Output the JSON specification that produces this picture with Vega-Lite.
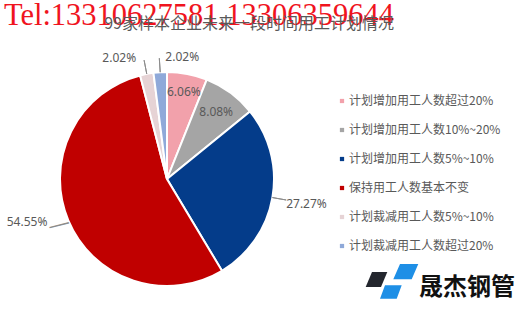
{
  "$schema": "https://vega.github.io/schema/vega-lite/v6.json",
  "background": "white",
  "padding": 0,
  "datasets": {
    "plans": [
      {"plan": "计划增加用工人数超过20%", "share": 0.0606},
      {"plan": "计划增加用工人数10%~20%", "share": 0.0808},
      {"plan": "计划增加用工人数5%~10%", "share": 0.2727},
      {"plan": "保持用工人数基本不变", "share": 0.5455},
      {"plan": "计划裁减用工人数5%~10%", "share": 0.0202},
      {"plan": "计划裁减用工人数超过20%", "share": 0.0202}
    ]
  },
  "title": {
    "text": "Tel:13310627581,13306359644",
    "subtitle": "99家样本企业未来一段时间用工计划情况",
    "anchor": "end",
    "frame": "bounds",
    "dx": -124,
    "baseline": "line-top",
    "lineHeight": 37,
    "offset": 14,
    "font": "Liberation Serif",
    "fontSize": 30.5,
    "fontWeight": "normal",
    "color": "#F0141E",
    "subtitleFont": "Noto Sans CJK SC",
    "subtitleFontSize": 16,
    "subtitleColor": "#595959",
    "subtitlePadding": -13
  },
  "config": {
    "view": {"stroke": null},
    "font": "Noto Sans CJK SC"
  },
  "spacing": 4,
  "hconcat": [
    {
      "width": 334,
      "height": 272,
      "data": {"name": "plans"},
      "transform": [{"window": [{"op": "row_number", "as": "rank"}]}],
      "encoding": {
        "theta": {"field": "share", "type": "quantitative", "stack": true},
        "order": {"field": "rank", "type": "quantitative"},
        "detail": {"field": "plan", "type": "nominal"}
      },
      "layer": [
        {
          "mark": {"type": "arc", "outerRadius": 107, "stroke": "white", "strokeWidth": 2},
          "encoding": {
            "color": {
              "field": "plan",
              "type": "nominal",
              "scale": {
                "domain": ["计划增加用工人数超过20%", "计划增加用工人数10%~20%", "计划增加用工人数5%~10%", "保持用工人数基本不变", "计划裁减用工人数5%~10%", "计划裁减用工人数超过20%"],
                "range": ["#F2A1AB", "#A5A5A5", "#043C8A", "#C00000", "#E6D3D5", "#8FA9D9"]
              },
              "legend": null
            }
          }
        },
        {
          "mark": {"type": "arc", "innerRadius": 107, "outerRadius": 121, "padAngle": 3, "fill": "transparent", "stroke": "#8C8C8C", "strokeWidth": 1},
          "encoding": {
            "strokeOpacity": {"condition": {"test": "datum.share < 0.03 || (datum.share > 0.2 && datum.share < 0.5)", "value": 1}, "value": 0}
          }
        },
        {
          "mark": {"type": "text", "radius": 117, "angle": -14, "align": "center", "baseline": "middle", "font": "Liberation Sans", "fontSize": 20, "color": "#8C8C8C"},
          "encoding": {
            "text": {"condition": {"test": "datum.share > 0.5", "value": "—"}, "value": ""}
          }
        },
        {
          "mark": {"type": "text", "radius": 89, "align": "center", "baseline": "middle", "font": "Noto Sans", "fontSize": 12, "color": "#595959"},
          "encoding": {
            "text": {"condition": {"test": "datum.share > 0.05 && datum.share < 0.07", "field": "share", "format": ".2%"}, "value": ""}
          }
        },
        {
          "mark": {"type": "text", "radius": 83, "align": "center", "baseline": "middle", "font": "Noto Sans", "fontSize": 12, "color": "#595959"},
          "encoding": {
            "text": {"condition": {"test": "datum.share > 0.07 && datum.share < 0.1", "field": "share", "format": ".2%"}, "value": ""}
          }
        },
        {
          "mark": {"type": "text", "radius": 121, "align": "left", "baseline": "middle", "dx": 0, "dy": 4, "font": "Noto Sans", "fontSize": 12, "color": "#595959"},
          "encoding": {
            "text": {"condition": {"test": "datum.share > 0.25 && datum.share < 0.3", "field": "share", "format": ".2%"}, "value": ""}
          }
        },
        {
          "mark": {"type": "text", "radius": 121, "align": "right", "baseline": "middle", "dx": -8, "dy": -4, "font": "Noto Sans", "fontSize": 12, "color": "#595959"},
          "encoding": {
            "text": {"condition": {"test": "datum.share > 0.5", "field": "share", "format": ".2%"}, "value": ""}
          }
        },
        {
          "mark": {"type": "text", "radius": 121, "align": "right", "baseline": "middle", "dx": -8, "dy": -2, "font": "Noto Sans", "fontSize": 12, "color": "#595959"},
          "encoding": {
            "text": {"condition": {"test": "datum.plan == '计划裁减用工人数5%~10%'", "field": "share", "format": ".2%"}, "value": ""}
          }
        },
        {
          "mark": {"type": "text", "radius": 121, "align": "left", "baseline": "middle", "dx": 6, "dy": -1, "font": "Noto Sans", "fontSize": 12, "color": "#595959"},
          "encoding": {
            "text": {"condition": {"test": "datum.plan == '计划裁减用工人数超过20%'", "field": "share", "format": ".2%"}, "value": ""}
          }
        }
      ]
    },
    {
      "spacing": 0,
      "vconcat": [
        {
          "width": 8,
          "height": 203,
          "data": {"name": "plans"},
          "encoding": {
            "y": {"field": "plan", "type": "nominal", "sort": null, "scale": {"type": "point", "padding": 1, "align": 1}, "axis": null}
          },
          "layer": [
            {
              "mark": {"type": "point", "shape": "square", "filled": true, "size": 18, "opacity": 1},
              "encoding": {
                "color": {
                  "field": "plan",
                  "type": "nominal",
                  "scale": {
                    "domain": ["计划增加用工人数超过20%", "计划增加用工人数10%~20%", "计划增加用工人数5%~10%", "保持用工人数基本不变", "计划裁减用工人数5%~10%", "计划裁减用工人数超过20%"],
                    "range": ["#F2A1AB", "#A5A5A5", "#043C8A", "#C00000", "#E6D3D5", "#8FA9D9"]
                  },
                  "legend": null
                }
              }
            },
            {
              "mark": {"type": "text", "align": "left", "baseline": "middle", "dx": 7, "font": "Noto Sans CJK SC", "fontSize": 12, "color": "#595959"},
              "encoding": {"text": {"field": "plan", "type": "nominal"}}
            }
          ]
        },
        {
          "width": 180,
          "height": 50,
          "data": {"values": [{"brand": "晟杰钢管"}]},
          "layer": [
            {
              "mark": {"type": "point", "shape": "M-56,-5L-40.7,-5L-47,10L-62.3,10Z", "size": 4, "filled": true, "fill": "#23262E", "strokeWidth": 0, "opacity": 1},
              "encoding": {}
            },
            {
              "mark": {"type": "point", "shape": "M-28,-13L-9.7,-13L-16.3,2.3L-34.7,2.3ZM-43,8.3L-26.3,8.3L-31.3,21.7L-48,21.7Z", "size": 4, "filled": true, "fill": "#1E8FE6", "strokeWidth": 0, "opacity": 1},
              "encoding": {}
            },
            {
              "mark": {"type": "text", "align": "center", "baseline": "middle", "dx": 39, "dy": 11, "font": "Noto Sans CJK SC", "fontSize": 24, "fontWeight": "bold", "color": "#111111"},
              "encoding": {"text": {"field": "brand", "type": "nominal"}}
            }
          ]
        }
      ]
    }
  ]
}
